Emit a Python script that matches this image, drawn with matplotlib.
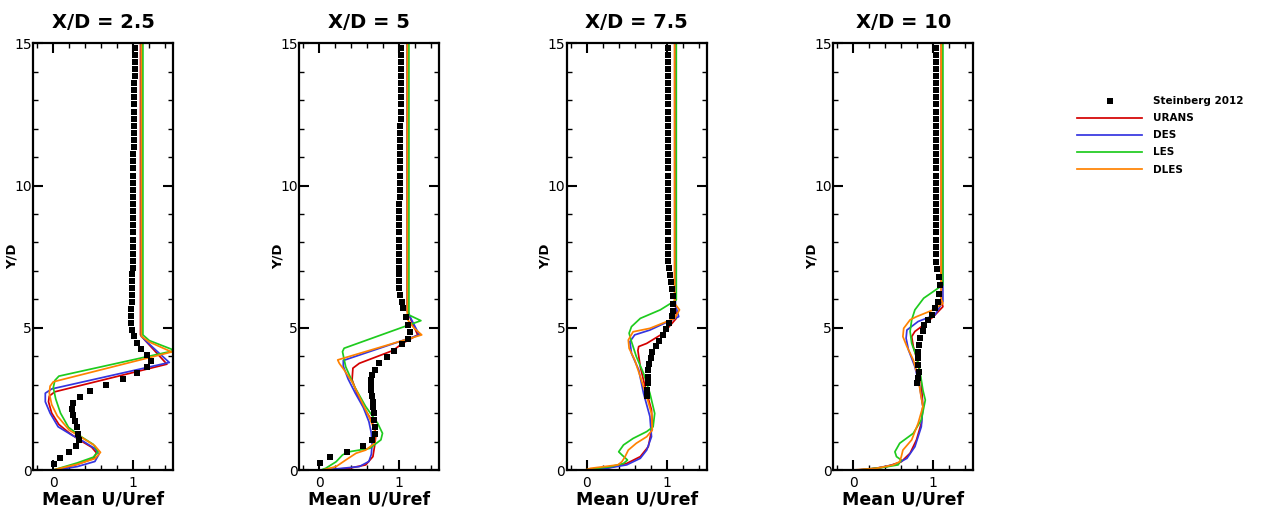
import matplotlib
matplotlib.use('Agg')
import matplotlib.pyplot as plt
from matplotlib.ticker import MultipleLocator

titles = ['X/D = 2.5', 'X/D = 5', 'X/D = 7.5', 'X/D = 10']
models = ['URANS', 'DES', 'LES', 'DLES']
colors = {'URANS': '#d40000', 'DES': '#3535e0', 'LES': '#1ecb1e', 'DLES': '#ff8200'}

# measured heights above y = 7.5 (same for every station)
exp_y_upper = [7.6, 7.85, 8.1, 8.35, 8.6, 8.85, 9.1, 9.35, 9.6, 9.85, 10.1, 10.35, 10.6, 10.85, 11.1,
               11.35, 11.6, 11.85, 12.1, 12.35, 12.6, 12.85, 13.1, 13.35, 13.6, 13.85, 14.1, 14.35, 14.6, 14.85]

# Steinberg 2012, X/D = 2.5
exp1_y = [0.21, 0.43, 0.64, 0.86, 1.07, 1.28, 1.5, 1.71, 1.92, 2.14, 2.35, 2.56, 2.78, 2.99, 3.2, 3.42, 3.63,
          3.84, 4.06, 4.27, 4.48, 4.7, 4.91, 5.15, 5.4, 5.65, 5.9, 6.15, 6.4, 6.65, 6.9, 7.1, 7.35]
exp1_u = [0.01, 0.08, 0.19, 0.28, 0.32, 0.31, 0.29, 0.27, 0.24, 0.23, 0.25, 0.33, 0.46, 0.66, 0.87, 1.05, 1.17,
          1.22, 1.17, 1.1, 1.05, 1.01, 0.98, 0.97, 0.97, 0.97, 0.98, 0.98, 0.98, 0.98, 0.98, 0.99, 0.99]
exp1_u_upper = [0.99, 0.99, 0.99, 0.99, 0.99, 0.99, 1.0, 1.0, 1.0, 1.0, 1.0, 1.0, 1.0, 1.0, 1.0,
                1.01, 1.01, 1.01, 1.01, 1.01, 1.01, 1.01, 1.01, 1.01, 1.01, 1.02, 1.02, 1.02, 1.02, 1.02]

# X/D = 5
exp2_y = [0.26, 0.45, 0.64, 0.86, 1.07, 1.28, 1.52, 1.76, 1.99, 2.2, 2.4, 2.6, 2.81, 3.0, 3.17, 3.35, 3.52,
          3.75, 3.96, 4.2, 4.43, 4.62, 4.84, 5.1, 5.39, 5.69, 5.92, 6.15, 6.4, 6.65, 6.9, 7.1, 7.35]
exp2_u = [0.01, 0.13, 0.35, 0.55, 0.66, 0.69, 0.69, 0.68, 0.68, 0.67, 0.67, 0.66, 0.65, 0.65, 0.65, 0.66, 0.69,
          0.74, 0.85, 0.93, 1.03, 1.11, 1.13, 1.11, 1.08, 1.05, 1.03, 1.01, 1.0, 1.0, 1.0, 1.0, 1.0]
exp2_u_upper = [1.0, 1.0, 1.0, 1.0, 1.0, 1.0, 1.0, 1.0, 1.01, 1.01, 1.01, 1.01, 1.01, 1.01, 1.01,
                1.01, 1.01, 1.01, 1.01, 1.02, 1.02, 1.02, 1.02, 1.02, 1.02, 1.02, 1.02, 1.02, 1.02, 1.02]

# X/D = 7.5
exp3_y = [2.6, 2.82, 3.05, 3.28, 3.5, 3.72, 3.95, 4.15, 4.35, 4.55, 4.75, 4.95, 5.16, 5.4, 5.6, 5.85, 6.1,
          6.35, 6.6, 6.85, 7.1, 7.35]
exp3_u = [0.75, 0.75, 0.76, 0.76, 0.77, 0.78, 0.8, 0.82, 0.86, 0.9, 0.95, 0.99, 1.03, 1.06, 1.08, 1.08, 1.08,
          1.07, 1.05, 1.04, 1.03, 1.02]
exp3_u_upper = [1.02, 1.02, 1.02, 1.02, 1.02, 1.02, 1.02, 1.02, 1.02, 1.02, 1.02, 1.02, 1.02, 1.02, 1.02,
                1.02, 1.02, 1.02, 1.02, 1.02, 1.02, 1.02, 1.02, 1.02, 1.02, 1.02, 1.02, 1.02, 1.02, 1.02]

# X/D = 10
exp4_y = [3.05, 3.22, 3.46, 3.69, 3.93, 4.16, 4.4, 4.63, 4.87, 5.1, 5.28, 5.45, 5.69, 5.92, 6.2, 6.5, 6.8,
          7.05, 7.3]
exp4_u = [0.8, 0.81, 0.82, 0.81, 0.81, 0.81, 0.82, 0.83, 0.87, 0.88, 0.94, 0.98, 1.02, 1.06, 1.07, 1.08, 1.07,
          1.05, 1.04]
exp4_u_upper = [1.04, 1.04, 1.04, 1.03, 1.03, 1.03, 1.03, 1.03, 1.03, 1.03, 1.03, 1.03, 1.03, 1.03, 1.03,
                1.03, 1.03, 1.03, 1.03, 1.03, 1.03, 1.03, 1.03, 1.03, 1.03, 1.03, 1.03, 1.03, 1.03, 1.03]

# simulations, X/D = 2.5
urans1_y = [15, 4.75, 4.55, 3.72, 2.75, 2.6, 2.4, 2.0, 1.6, 1.3, 1.05, 0.8, 0.6, 0.4, 0.2, 0.07, 0]
urans1_u = [1.09, 1.09, 1.15, 1.42, 0.02, -0.05, -0.06, -0.02, 0.07, 0.2, 0.33, 0.48, 0.54, 0.5, 0.3, 0.12, 0.02]
des1_y = [15, 4.7, 4.5, 3.78, 2.85, 2.7, 2.4, 2.0, 1.52, 1.23, 1.0, 0.75, 0.55, 0.3, 0.12, 0.03, 0]
des1_u = [1.1, 1.1, 1.17, 1.45, -0.02, -0.1, -0.1, -0.04, 0.06, 0.23, 0.38, 0.52, 0.57, 0.52, 0.3, 0.1, 0.0]
les1_y = [15, 4.75, 4.55, 4.2, 3.3, 3.15, 2.9, 2.5, 2.0, 1.5, 1.15, 0.9, 0.65, 0.45, 0.25, 0.1, 0]
les1_u = [1.12, 1.12, 1.2, 1.52, 0.07, 0.02, 0.0, 0.03, 0.09, 0.19, 0.36, 0.5, 0.56, 0.5, 0.3, 0.12, 0.0]
dles1_y = [15, 4.7, 4.5, 4.15, 3.1, 2.95, 2.7, 2.3, 1.9, 1.4, 1.1, 0.85, 0.62, 0.4, 0.2, 0.07, 0]
dles1_u = [1.1, 1.1, 1.2, 1.48, 0.0, -0.04, -0.05, -0.02, 0.05, 0.2, 0.38, 0.52, 0.59, 0.52, 0.3, 0.1, 0.0]

# X/D = 5
urans2_y = [15, 5.6, 5.25, 4.75, 4.45, 4.2, 3.75, 3.58, 3.17, 2.7, 2.23, 1.76, 1.29, 0.82, 0.47, 0.18, 0.06, 0]
urans2_u = [1.1, 1.1, 1.15, 1.23, 1.04, 0.92, 0.5, 0.42, 0.41, 0.47, 0.55, 0.65, 0.71, 0.69, 0.67, 0.58, 0.37, 0.08]
des2_y = [15, 5.6, 5.3, 4.75, 3.85, 3.65, 3.2, 2.7, 2.2, 1.7, 1.3, 0.9, 0.55, 0.3, 0.12, 0.05, 0]
des2_u = [1.1, 1.1, 1.15, 1.25, 0.3, 0.3, 0.36, 0.45, 0.55, 0.62, 0.65, 0.66, 0.65, 0.62, 0.5, 0.25, 0.05]
les2_y = [15, 5.45, 5.25, 4.28, 4.16, 3.63, 2.93, 2.23, 1.64, 1.29, 1.06, 0.76, 0.64, 0.53, 0.29, 0.06, 0]
les2_u = [1.12, 1.12, 1.27, 0.31, 0.29, 0.33, 0.44, 0.58, 0.73, 0.79, 0.77, 0.63, 0.37, 0.29, 0.21, 0.08, 0.02]
dles2_y = [15, 5.3, 5.0, 4.75, 3.87, 3.75, 3.52, 3.05, 2.46, 1.88, 1.41, 0.94, 0.7, 0.59, 0.35, 0.12, 0]
dles2_u = [1.1, 1.1, 1.18, 1.28, 0.23, 0.25, 0.31, 0.42, 0.52, 0.62, 0.69, 0.69, 0.58, 0.46, 0.33, 0.21, 0.04]

# X/D = 7.5
urans3_y = [15, 5.9, 5.6, 5.33, 4.81, 4.45, 4.34, 4.2, 3.63, 2.93, 2.11, 1.52, 0.82, 0.47, 0.23, 0.06, 0]
urans3_u = [1.1, 1.1, 1.12, 1.12, 0.96, 0.75, 0.65, 0.64, 0.67, 0.73, 0.81, 0.82, 0.77, 0.67, 0.5, 0.25, 0.02]
des3_y = [15, 5.8, 5.39, 4.92, 4.75, 4.51, 4.1, 3.52, 2.7, 1.88, 1.17, 0.7, 0.41, 0.18, 0.06, 0]
des3_u = [1.11, 1.11, 1.15, 0.79, 0.6, 0.54, 0.56, 0.65, 0.71, 0.79, 0.81, 0.75, 0.67, 0.5, 0.25, 0.05]
les3_y = [15, 6.2, 5.98, 5.63, 5.33, 5.04, 4.81, 4.51, 3.99, 3.4, 2.7, 1.99, 1.52, 1.35, 1.11, 0.88, 0.64,
          0.53, 0.35, 0.23, 0.12, 0.05, 0]
les3_u = [1.12, 1.12, 1.12, 0.92, 0.67, 0.56, 0.53, 0.56, 0.62, 0.71, 0.79, 0.85, 0.83, 0.75, 0.58, 0.46, 0.4,
          0.44, 0.51, 0.46, 0.3, 0.1, -0.02]
dles3_y = [15, 5.85, 5.63, 5.33, 4.98, 4.86, 4.57, 4.28, 3.87, 3.28, 2.58, 1.99, 1.41, 1.17, 0.94, 0.7, 0.47,
           0.29, 0.18, 0.06, 0]
dles3_u = [1.1, 1.1, 1.16, 1.1, 0.79, 0.58, 0.52, 0.53, 0.6, 0.67, 0.75, 0.81, 0.82, 0.75, 0.62, 0.52, 0.48,
           0.44, 0.39, 0.05, -0.02]

# X/D = 10
urans4_y = [15, 6.0, 5.74, 5.39, 5.1, 4.87, 4.69, 4.34, 3.75, 3.05, 2.23, 1.64, 1.06, 0.59, 0.29, 0.12, 0.02, 0]
urans4_u = [1.1, 1.1, 1.12, 1.0, 0.88, 0.77, 0.73, 0.75, 0.81, 0.85, 0.87, 0.85, 0.79, 0.71, 0.6, 0.42, 0.17, 0.05]
des4_y = [15, 6.0, 5.92, 5.45, 5.22, 4.92, 4.63, 4.22, 3.63, 2.93, 2.23, 1.52, 0.82, 0.41, 0.21, 0.06, 0]
des4_u = [1.11, 1.12, 1.12, 1.02, 0.81, 0.67, 0.66, 0.69, 0.77, 0.83, 0.87, 0.85, 0.77, 0.67, 0.54, 0.29, 0.05]
les4_y = [15, 6.5, 6.39, 6.04, 5.63, 5.28, 4.87, 4.45, 3.99, 3.52, 2.81, 2.46, 1.76, 1.29, 0.94, 0.64, 0.47,
          0.35, 0.18, 0.09, 0]
les4_u = [1.12, 1.12, 1.06, 0.88, 0.77, 0.73, 0.71, 0.73, 0.79, 0.83, 0.87, 0.9, 0.85, 0.75, 0.58, 0.52, 0.54,
          0.6, 0.56, 0.37, 0.08]
dles4_y = [15, 6.0, 5.86, 5.63, 5.39, 5.28, 4.98, 4.69, 4.34, 3.87, 3.28, 2.7, 2.23, 1.64, 1.06, 0.7, 0.47,
           0.29, 0.18, 0.06, 0]
dles4_u = [1.1, 1.1, 1.12, 1.0, 0.79, 0.71, 0.63, 0.62, 0.67, 0.75, 0.81, 0.84, 0.87, 0.81, 0.73, 0.62, 0.6,
           0.58, 0.5, 0.29, 0.0]

stations = [
    (exp1_y, exp1_u, exp1_u_upper, {'URANS': (urans1_u, urans1_y), 'DES': (des1_u, des1_y),
                                    'LES': (les1_u, les1_y), 'DLES': (dles1_u, dles1_y)}),
    (exp2_y, exp2_u, exp2_u_upper, {'URANS': (urans2_u, urans2_y), 'DES': (des2_u, des2_y),
                                    'LES': (les2_u, les2_y), 'DLES': (dles2_u, dles2_y)}),
    (exp3_y, exp3_u, exp3_u_upper, {'URANS': (urans3_u, urans3_y), 'DES': (des3_u, des3_y),
                                    'LES': (les3_u, les3_y), 'DLES': (dles3_u, dles3_y)}),
    (exp4_y, exp4_u, exp4_u_upper, {'URANS': (urans4_u, urans4_y), 'DES': (des4_u, des4_y),
                                    'LES': (les4_u, les4_y), 'DLES': (dles4_u, dles4_y)}),
]

plt.rcParams['font.family'] = ['DejaVu Sans']
fig = plt.figure(figsize=(12.66, 5.11), dpi=100)

lefts = [33.3, 299.3, 566.7, 833.3]
handles = []
for i, (ey, eu, eu_up, sims) in enumerate(stations):
    ax = fig.add_axes([lefts[i] / 1266, 41 / 511, 140 / 1266, 426.7 / 511])
    h_exp, = ax.plot(eu + eu_up, ey + exp_y_upper, 's', color='black', ms=4.0, mew=0, zorder=3,
                     label='Steinberg 2012')
    hs = [h_exp]
    for m in models:
        u, y = sims[m]
        h, = ax.plot(u, y, '-', color=colors[m], lw=1.25, label=m, zorder=2)
        hs.append(h)
    if i == 0:
        handles = hs
    ax.set_xlim(-0.25, 1.5)
    ax.set_ylim(0, 15)
    ax.set_xticks([0, 1])
    ax.set_yticks([0, 5, 10, 15])
    ax.xaxis.set_minor_locator(MultipleLocator(0.2))
    ax.yaxis.set_minor_locator(MultipleLocator(1))
    ax.tick_params(which='both', direction='in', top=True, right=True, width=1.5, labelsize=10)
    ax.tick_params(which='major', length=7, pad=4)
    ax.tick_params(which='minor', length=3.5, width=1)
    ax.tick_params(axis='y', pad=1)
    for s in ax.spines.values():
        s.set_linewidth(1.6)
    ax.set_title(titles[i], fontsize=14, fontweight='bold', pad=11)
    ax.set_xlabel('Mean U/Uref', fontsize=12.5, fontweight='bold', labelpad=1)
    ax.set_ylabel('Y/D', fontsize=9.5, fontweight='bold')
    ax.yaxis.set_label_coords(-0.105, 0.5)

fig.legend(handles=handles, labels=['Steinberg 2012'] + models, loc='upper left',
           bbox_to_anchor=(1072 / 1266, 1 - 91 / 511), frameon=False, numpoints=1,
           prop={'weight': 'bold', 'size': 7.5}, handlelength=6.2, handletextpad=1.1,
           labelspacing=0.68, borderpad=0)

fig.savefig('out.png', dpi=100)
